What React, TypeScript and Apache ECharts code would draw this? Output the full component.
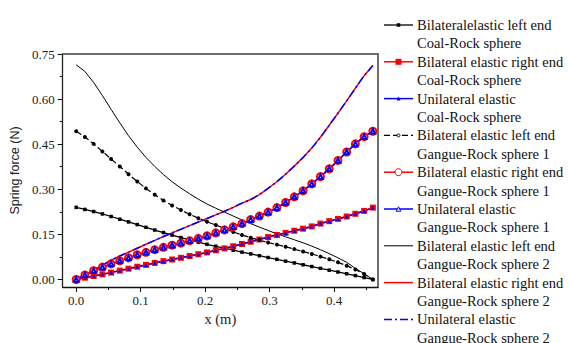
import React, { useEffect, useRef } from "react";
import * as echarts from "echarts";

// x positions (m)
const X = [0, 0.0135, 0.0271, 0.0406, 0.0541, 0.0676, 0.0812, 0.0947, 0.1082, 0.1218, 0.1353, 0.1488, 0.1624, 0.1759, 0.1894, 0.2029, 0.2165, 0.23, 0.2435, 0.2571, 0.2706, 0.2841, 0.2976, 0.3112, 0.3247, 0.3382, 0.3518, 0.3653, 0.3788, 0.3924, 0.4059, 0.4194, 0.4329, 0.4465, 0.46];

// Coal-Rock sphere
const coalLeft = [0.24, 0.233, 0.226, 0.218, 0.2095, 0.2005, 0.1915, 0.1825, 0.1735, 0.1645, 0.156, 0.1475, 0.1395, 0.1315, 0.124, 0.117, 0.1105, 0.104, 0.0975, 0.091, 0.085, 0.079, 0.073, 0.067, 0.061, 0.055, 0.049, 0.043, 0.037, 0.031, 0.025, 0.019, 0.013, 0.0065, 0];
const coalRight = [0, 0.006, 0.0115, 0.017, 0.023, 0.0295, 0.036, 0.0425, 0.0485, 0.055, 0.061, 0.0665, 0.072, 0.078, 0.084, 0.09, 0.097, 0.1035, 0.1105, 0.118, 0.1255, 0.133, 0.141, 0.148, 0.155, 0.162, 0.169, 0.1765, 0.186, 0.194, 0.2015, 0.2095, 0.2185, 0.228, 0.239];
const coalUni = [0, 0.006, 0.0115, 0.017, 0.023, 0.0295, 0.036, 0.0425, 0.0485, 0.055, 0.061, 0.0665, 0.072, 0.078, 0.084, 0.09, 0.097, 0.1035, 0.1105, 0.118, 0.1255, 0.133, 0.141, 0.148, 0.155, 0.162, 0.169, 0.1765, 0.186, 0.194, 0.2015, 0.2095, 0.2185, 0.228, 0.239];

// Gangue-Rock sphere 1
const g1Left = [0.493, 0.474, 0.451, 0.426, 0.401, 0.376, 0.35, 0.326, 0.303, 0.282, 0.263, 0.246, 0.231, 0.217, 0.204, 0.192, 0.181, 0.17, 0.158, 0.148, 0.139, 0.131, 0.123, 0.116, 0.109, 0.101, 0.093, 0.085, 0.076, 0.067, 0.057, 0.046, 0.033, 0.018, 0];
const g1Right = [0, 0.015, 0.029, 0.041, 0.052, 0.062, 0.072, 0.082, 0.0905, 0.099, 0.107, 0.114, 0.121, 0.129, 0.137, 0.145, 0.155, 0.165, 0.175, 0.186, 0.199, 0.211, 0.224, 0.239, 0.256, 0.275, 0.295, 0.318, 0.342, 0.368, 0.396, 0.424, 0.451, 0.475, 0.493];
const g1Uni = [0, 0.015, 0.029, 0.041, 0.052, 0.062, 0.072, 0.082, 0.0905, 0.099, 0.107, 0.114, 0.121, 0.129, 0.137, 0.145, 0.155, 0.165, 0.175, 0.186, 0.199, 0.211, 0.224, 0.239, 0.256, 0.275, 0.295, 0.318, 0.342, 0.368, 0.396, 0.424, 0.451, 0.475, 0.493];

// Gangue-Rock sphere 2
const g2Left = [0.714, 0.692, 0.655, 0.612, 0.566, 0.521, 0.478, 0.44, 0.406, 0.376, 0.349, 0.325, 0.304, 0.285, 0.267, 0.251, 0.237, 0.224, 0.211, 0.198, 0.186, 0.174, 0.163, 0.152, 0.142, 0.132, 0.122, 0.111, 0.099, 0.086, 0.072, 0.057, 0.037, 0.019, 0];
const g2Right = [0, 0.016, 0.032, 0.048, 0.064, 0.078, 0.091, 0.104, 0.117, 0.13, 0.143, 0.155, 0.167, 0.179, 0.191, 0.203, 0.215, 0.227, 0.24, 0.254, 0.266, 0.282, 0.303, 0.325, 0.35, 0.377, 0.406, 0.437, 0.473, 0.513, 0.553, 0.594, 0.636, 0.678, 0.712];
const g2Uni = [0, 0.016, 0.032, 0.048, 0.064, 0.078, 0.091, 0.104, 0.117, 0.13, 0.143, 0.155, 0.167, 0.179, 0.191, 0.203, 0.215, 0.227, 0.24, 0.254, 0.266, 0.282, 0.303, 0.325, 0.35, 0.377, 0.406, 0.437, 0.473, 0.513, 0.553, 0.594, 0.636, 0.678, 0.712];

const xTicks = [0, 0.1, 0.2, 0.3, 0.4];
const xMinorTicks = [0.05, 0.15, 0.25, 0.35, 0.45];
const yTicks = [0, 0.15, 0.3, 0.45, 0.6, 0.75];
const yMinorTicks = [0.075, 0.225, 0.375, 0.525, 0.675];

const legendLine1 = [
  "Bilateralelastic left end",
  "Bilateral elastic right end",
  "Unilateral elastic",
  "Bilateral elastic left end",
  "Bilateral elastic right end",
  "Unilateral elastic",
  "Bilateral elastic left end",
  "Bilateral elastic right end",
  "Unilateral elastic",
];
const legendLine2 = [
  "Coal-Rock sphere",
  "Coal-Rock sphere",
  "Coal-Rock sphere",
  "Gangue-Rock sphere 1",
  "Gangue-Rock sphere 1",
  "Gangue-Rock sphere 1",
  "Gangue-Rock sphere 2",
  "Gangue-Rock sphere 2",
  "Gangue-Rock sphere 2",
];

const SERIF = "Liberation Serif";
const SANS = "Liberation Sans";

type Meta = {
  data: number[];
  color: string;
  width: number;
  dash: number[] | "solid";
  symbol: string;
  size: number;
  hollow?: boolean;
};

const metas: Meta[] = [
  { data: coalLeft, color: "#000000", width: 1.3, dash: "solid", symbol: "rect", size: 3.5 },
  { data: coalRight, color: "#ff0000", width: 1.5, dash: "solid", symbol: "rect", size: 6 },
  { data: coalUni, color: "#0000ff", width: 1.5, dash: "solid", symbol: "triangle", size: 4 },
  { data: g1Left, color: "#000000", width: 1.2, dash: [6, 3], symbol: "emptyCircle", size: 2, hollow: true },
  { data: g1Right, color: "#ff0000", width: 1.5, dash: "solid", symbol: "emptyCircle", size: 7, hollow: true },
  { data: g1Uni, color: "#0000ff", width: 1.5, dash: "solid", symbol: "emptyTriangle", size: 4.5, hollow: true },
  { data: g2Left, color: "#000000", width: 1, dash: "solid", symbol: "none", size: 0 },
  { data: g2Right, color: "#ff0000", width: 1.5, dash: "solid", symbol: "none", size: 0 },
  { data: g2Uni, color: "#0000ff", width: 1.5, dash: [8, 3, 2, 3], symbol: "none", size: 0 },
];

function buildLegend() {
  const children: any[] = [];
  const x1 = 384;
  const x2 = 413;
  const cx = 398.5;
  metas.forEach((m, i) => {
    const y = 25 + i * 36.8;
    children.push({
      type: "line",
      shape: { x1, y1: y, x2, y2: y },
      style: { stroke: m.color, lineWidth: m.width, lineDash: m.dash === "solid" ? null : m.dash },
    });
    const s = Math.max(m.size, 3);
    if (m.symbol === "rect") {
      children.push({ type: "rect", shape: { x: cx - s / 2, y: y - s / 2, width: s, height: s }, style: { fill: m.color } });
    } else if (m.symbol === "triangle" || m.symbol === "emptyTriangle") {
      children.push({
        type: "polygon",
        shape: { points: [[cx, y - s / 2], [cx + s / 2, y + s / 2], [cx - s / 2, y + s / 2]] },
        style: m.hollow ? { fill: "#fff", stroke: m.color, lineWidth: 1 } : { fill: m.color },
      });
    } else if (m.symbol === "emptyCircle") {
      children.push({
        type: "circle",
        shape: { cx, cy: y, r: s / 2 },
        style: { fill: "#fff", stroke: m.color, lineWidth: 1 },
      });
    }
    children.push({
      type: "text",
      x: 417,
      y,
      style: { text: legendLine1[i], fontSize: 14.5, fontFamily: SERIF, fill: "#111", verticalAlign: "middle", align: "left" },
    });
    children.push({
      type: "text",
      x: 417,
      y: y + 18.3,
      style: { text: legendLine2[i], fontSize: 14.5, fontFamily: SERIF, fill: "#111", verticalAlign: "middle", align: "left" },
    });
  });
  return children;
}

export default function App() {
  const ref = useRef<HTMLDivElement>(null);
  useEffect(() => {
    if (!ref.current) return;
    const chart = echarts.init(ref.current, null, { renderer: "svg" });
    const xMin = -0.021;
    const xMax = 0.468;
    const yMin = -0.025;
    const yMax = 0.75;
    const option: any = {
      animation: false,
      backgroundColor: "#ffffff",
      grid: { left: 58, right: 190, top: 54, bottom: 56, containLabel: false },
      xAxis: [
        {
          type: "value",
          min: xMin,
          max: xMax,
          position: "bottom",
          axisLine: { show: true, onZero: false, lineStyle: { color: "#111", width: 1.3 } },
          axisTick: { show: true, inside: false, length: 5, customValues: xTicks, lineStyle: { color: "#111", width: 1 } },
          axisLabel: {
            show: true,
            customValues: xTicks,
            formatter: (v: number) => v.toFixed(1),
            fontFamily: SERIF,
            fontSize: 13,
            color: "#222",
            margin: 7,
          },
          splitLine: { show: false },
          name: "x (m)",
          nameLocation: "middle",
          nameGap: 22,
          nameTextStyle: { fontFamily: SERIF, fontSize: 14.5, color: "#222" },
        },
        {
          type: "value",
          min: xMin,
          max: xMax,
          position: "bottom",
          axisLine: { show: false, onZero: false },
          axisTick: { show: true, inside: false, length: 3, customValues: xMinorTicks, lineStyle: { color: "#111", width: 1 } },
          axisLabel: { show: false },
          splitLine: { show: false },
        },
        {
          type: "value",
          min: xMin,
          max: xMax,
          position: "top",
          axisLine: { show: true, onZero: false, lineStyle: { color: "#6e6e6e", width: 2 } },
          axisTick: { show: false },
          axisLabel: { show: false },
          splitLine: { show: false },
        },
      ],
      yAxis: [
        {
          type: "value",
          min: yMin,
          max: yMax,
          position: "left",
          axisLine: { show: true, onZero: false, lineStyle: { color: "#222", width: 1.3 } },
          axisTick: { show: true, inside: false, length: 5, customValues: yTicks, lineStyle: { color: "#111", width: 1 } },
          axisLabel: {
            show: true,
            customValues: yTicks,
            formatter: (v: number) => v.toFixed(2),
            fontFamily: SERIF,
            fontSize: 13,
            color: "#222",
            margin: 8,
          },
          splitLine: { show: false },
          name: "Spring force (N)",
          nameLocation: "middle",
          nameGap: 34,
          nameRotate: 90,
          nameTextStyle: { fontFamily: SANS, fontSize: 12.5, color: "#222" },
        },
        {
          type: "value",
          min: yMin,
          max: yMax,
          position: "left",
          axisLine: { show: false, onZero: false },
          axisTick: { show: true, inside: false, length: 3, customValues: yMinorTicks, lineStyle: { color: "#111", width: 1 } },
          axisLabel: { show: false },
          splitLine: { show: false },
        },
        {
          type: "value",
          min: yMin,
          max: yMax,
          position: "right",
          axisLine: { show: true, onZero: false, lineStyle: { color: "#6e6e6e", width: 2 } },
          axisTick: { show: false },
          axisLabel: { show: false },
          splitLine: { show: false },
        },
      ],
      series: metas.map((m, i) => ({
        type: "line",
        name: legendLine1[i] + " " + legendLine2[i],
        xAxisIndex: 0,
        yAxisIndex: 0,
        data: X.map((x, k) => [x, m.data[k]]),
        showSymbol: m.symbol !== "none",
        symbol: m.symbol,
        symbolSize: m.size,
        lineStyle: { color: m.color, width: m.width, type: m.dash },
        itemStyle: m.hollow
          ? { color: m.color, borderColor: m.color, borderWidth: 1 }
          : { color: m.color, borderWidth: 0 },
        emphasis: { disabled: true },
        silent: true,
        z: 2,
      })),
      graphic: { elements: buildLegend() },
    };
    chart.setOption(option);
    return () => chart.dispose();
  }, []);
  return (
    <div
      ref={ref}
      style={{ position: "fixed", left: 0, top: 0, width: 568, height: 343, background: "#fff" }}
    />
  );
}
